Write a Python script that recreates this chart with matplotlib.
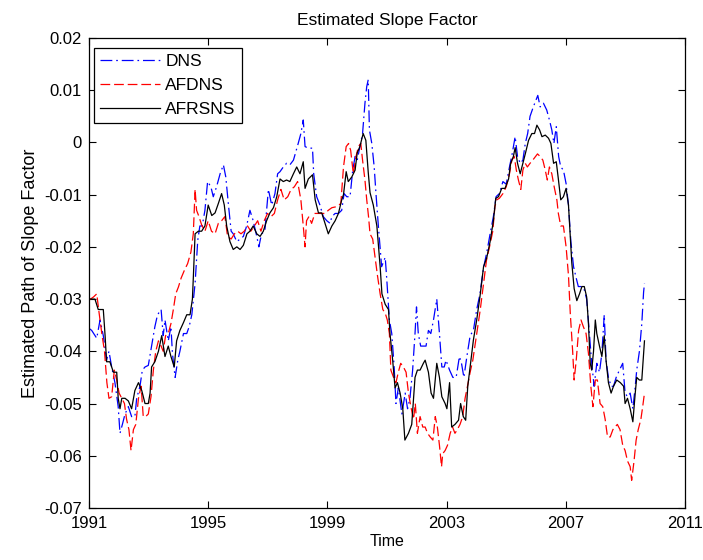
import matplotlib
matplotlib.use("Agg")
import matplotlib.pyplot as plt

plt.rcParams['font.family'] = ['Liberation Sans', 'DejaVu Sans']
plt.rcParams['lines.scale_dashes'] = False

# DNS slope factor path (decimal year, value)
dns_t = [1991.00, 1991.09, 1991.26, 1991.37, 1991.48, 1991.59, 1991.67, 1991.76, 1991.87, 1991.98,
         1992.04, 1992.12, 1992.21, 1992.32, 1992.43, 1992.54, 1992.60, 1992.71, 1992.79, 1992.88,
         1992.99, 1993.10, 1993.21, 1993.30, 1993.42, 1993.49, 1993.55, 1993.66, 1993.75, 1993.80,
         1993.89, 1993.98, 1994.05, 1994.17, 1994.28, 1994.36, 1994.45, 1994.56, 1994.65, 1994.72,
         1994.80, 1994.89, 1994.98, 1995.09, 1995.17, 1995.28, 1995.40, 1995.51, 1995.59, 1995.68,
         1995.77, 1995.84, 1995.96, 1996.07, 1996.18, 1996.29, 1996.40, 1996.51, 1996.63, 1996.70,
         1996.79, 1996.90, 1997.02, 1997.13, 1997.24, 1997.33, 1997.41, 1997.52, 1997.63, 1997.74,
         1997.86, 1997.94, 1998.02, 1998.11, 1998.19, 1998.25, 1998.36, 1998.50, 1998.54, 1998.64,
         1998.75, 1998.86, 1998.98, 1999.09, 1999.15, 1999.26, 1999.37, 1999.48, 1999.56, 1999.65,
         1999.76, 1999.85, 1999.93, 2000.00, 2000.09, 2000.18, 2000.26, 2000.32, 2000.37, 2000.41,
         2000.49, 2000.57, 2000.63, 2000.71, 2000.82, 2000.94, 2000.99, 2001.08, 2001.16, 2001.24,
         2001.30, 2001.38, 2001.50, 2001.61, 2001.69, 2001.77, 2001.86, 2001.94, 2001.99, 2002.05,
         2002.13, 2002.22, 2002.31, 2002.39, 2002.47, 2002.56, 2002.67, 2002.76, 2002.84, 2002.92,
         2002.98, 2003.10, 2003.21, 2003.32, 2003.43, 2003.50, 2003.58, 2003.68, 2003.79, 2003.90,
         2004.01, 2004.12, 2004.24, 2004.35, 2004.46, 2004.57, 2004.66, 2004.77, 2004.89, 2005.00,
         2005.11, 2005.20, 2005.30, 2005.38, 2005.47, 2005.56, 2005.64, 2005.72, 2005.80, 2005.91,
         2006.00, 2006.06, 2006.14, 2006.25, 2006.36, 2006.45, 2006.53, 2006.60, 2006.68, 2006.76,
         2006.83, 2006.92, 2007.01, 2007.09, 2007.17, 2007.26, 2007.35, 2007.42, 2007.54, 2007.61,
         2007.70, 2007.79, 2007.87, 2007.95, 2008.04, 2008.13, 2008.21, 2008.29, 2008.35, 2008.43,
         2008.52, 2008.60, 2008.69, 2008.80, 2008.91, 2008.99, 2009.07, 2009.16, 2009.25, 2009.33,
         2009.38, 2009.47, 2009.55, 2009.61, 2009.64]
dns = [-0.0356, -0.0360, -0.0375, -0.0340, -0.0370, -0.0417, -0.0400, -0.0430, -0.0460, -0.0506,
       -0.0557, -0.0540, -0.0520, -0.0506, -0.0525, -0.0525, -0.0490, -0.0467, -0.0436, -0.0430,
       -0.0427, -0.0390, -0.0353, -0.0330, -0.0320, -0.0370, -0.0340, -0.0380, -0.0353, -0.0404,
       -0.0450, -0.0417, -0.0400, -0.0366, -0.0366, -0.0353, -0.0330, -0.0270, -0.0187, -0.0160,
       -0.0160, -0.0130, -0.0075, -0.0085, -0.0104, -0.0085, -0.0060, -0.0043, -0.0066, -0.0120,
       -0.0170, -0.0175, -0.0190, -0.0185, -0.0180, -0.0160, -0.0130, -0.0150, -0.0180, -0.0200,
       -0.0175, -0.0170, -0.0090, -0.0120, -0.0098, -0.0060, -0.0056, -0.0047, -0.0040, -0.0043,
       -0.0034, -0.0018, -0.0002, 0.0017, 0.0043, -0.0008, -0.0011, -0.0011, -0.0060, -0.0104,
       -0.0120, -0.0142, -0.0150, -0.0155, -0.0142, -0.0136, -0.0136, -0.0130, -0.0098, -0.0104,
       -0.0104, -0.0053, -0.0027, -0.0034, -0.0008, 0.0017, 0.0075, 0.0107, 0.0120, 0.0024,
       -0.0002, -0.0047, -0.0098, -0.0160, -0.0238, -0.0220, -0.0260, -0.0340, -0.0366, -0.0430,
       -0.0500, -0.0470, -0.0520, -0.0480, -0.0510, -0.0490, -0.0436, -0.0366, -0.0315, -0.0366,
       -0.0390, -0.0390, -0.0390, -0.0360, -0.0366, -0.0340, -0.0300, -0.0366, -0.0430, -0.0430,
       -0.0417, -0.0436, -0.0450, -0.0450, -0.0410, -0.0423, -0.0450, -0.0410, -0.0370, -0.0360,
       -0.0320, -0.0290, -0.0240, -0.0210, -0.0175, -0.0142, -0.0104, -0.0098, -0.0075, -0.0080,
       -0.0047, -0.0022, 0.0011, -0.0027, -0.0040, -0.0034, -0.0002, 0.0017, 0.0050, 0.0068,
       0.0081, 0.0090, 0.0068, 0.0075, 0.0062, 0.0043, 0.0024, -0.0002, 0.0030, -0.0027,
       -0.0047, -0.0053, -0.0079, -0.0120, -0.0190, -0.0238, -0.0260, -0.0276, -0.0276, -0.0280,
       -0.0300, -0.0366, -0.0423, -0.0467, -0.0423, -0.0440, -0.0404, -0.0330, -0.0417, -0.0450,
       -0.0467, -0.0467, -0.0450, -0.0436, -0.0423, -0.0480, -0.0487, -0.0480, -0.0510, -0.0467,
       -0.0436, -0.0400, -0.0347, -0.0287, -0.0270]

# AFDNS slope factor path
afdns_t = [1991.00, 1991.15, 1991.26, 1991.34, 1991.43, 1991.52, 1991.60, 1991.67, 1991.76, 1991.85,
           1991.93, 1992.01, 1992.10, 1992.19, 1992.26, 1992.34, 1992.41, 1992.49, 1992.57, 1992.66,
           1992.75, 1992.82, 1992.90, 1992.99, 1993.08, 1993.16, 1993.24, 1993.33, 1993.42, 1993.49,
           1993.57, 1993.66, 1993.75, 1993.83, 1993.91, 1994.00, 1994.09, 1994.20, 1994.31, 1994.42,
           1994.50, 1994.56, 1994.61, 1994.69, 1994.78, 1994.89, 1995.00, 1995.11, 1995.23, 1995.34,
           1995.45, 1995.56, 1995.65, 1995.77, 1995.88, 1995.99, 1996.10, 1996.21, 1996.32, 1996.43,
           1996.55, 1996.66, 1996.77, 1996.88, 1996.99, 1997.11, 1997.22, 1997.33, 1997.44, 1997.55,
           1997.67, 1997.78, 1997.89, 1998.00, 1998.11, 1998.19, 1998.25, 1998.30, 1998.38, 1998.47,
           1998.58, 1998.69, 1998.81, 1998.92, 1999.03, 1999.15, 1999.31, 1999.45, 1999.54, 1999.63,
           1999.71, 1999.78, 1999.87, 1999.96, 2000.04, 2000.12, 2000.18, 2000.26, 2000.32, 2000.38,
           2000.43, 2000.52, 2000.60, 2000.68, 2000.77, 2000.86, 2000.94, 2001.01, 2001.08, 2001.13,
           2001.22, 2001.30, 2001.38, 2001.46, 2001.55, 2001.64, 2001.72, 2001.80, 2001.89, 2001.95,
           2002.02, 2002.11, 2002.20, 2002.28, 2002.36, 2002.45, 2002.54, 2002.62, 2002.69, 2002.76,
           2002.83, 2002.87, 2002.95, 2003.03, 2003.12, 2003.20, 2003.28, 2003.36, 2003.45, 2003.54,
           2003.62, 2003.70, 2003.79, 2003.88, 2003.95, 2004.03, 2004.13, 2004.24, 2004.34, 2004.44,
           2004.55, 2004.62, 2004.68, 2004.77, 2004.89, 2005.00, 2005.11, 2005.19, 2005.27, 2005.34,
           2005.41, 2005.49, 2005.56, 2005.64, 2005.71, 2005.80, 2005.89, 2005.97, 2006.05, 2006.14,
           2006.23, 2006.31, 2006.38, 2006.45, 2006.53, 2006.61, 2006.70, 2006.75, 2006.83, 2006.92,
           2007.01, 2007.09, 2007.15, 2007.23, 2007.28, 2007.35, 2007.43, 2007.51, 2007.59, 2007.68,
           2007.76, 2007.84, 2007.91, 2007.99, 2008.06, 2008.15, 2008.24, 2008.32, 2008.40, 2008.49,
           2008.58, 2008.65, 2008.73, 2008.82, 2008.91, 2008.99, 2009.07, 2009.16, 2009.21, 2009.29,
           2009.36, 2009.43, 2009.52, 2009.58, 2009.64]
afdns = [-0.0302, -0.0296, -0.0290, -0.0327, -0.0366, -0.0400, -0.0460, -0.0490, -0.0487, -0.0436,
         -0.0455, -0.0480, -0.0490, -0.0500, -0.0530, -0.0550, -0.0590, -0.0550, -0.0540, -0.0490,
         -0.0467, -0.0525, -0.0525, -0.0520, -0.0487, -0.0436, -0.0400, -0.0380, -0.0390, -0.0400,
         -0.0370, -0.0366, -0.0347, -0.0320, -0.0290, -0.0277, -0.0260, -0.0245, -0.0232, -0.0210,
         -0.0175, -0.0090, -0.0130, -0.0142, -0.0158, -0.0170, -0.0150, -0.0170, -0.0175, -0.0155,
         -0.0150, -0.0142, -0.0180, -0.0185, -0.0175, -0.0170, -0.0175, -0.0170, -0.0160, -0.0170,
         -0.0160, -0.0150, -0.0170, -0.0150, -0.0136, -0.0142, -0.0136, -0.0110, -0.0090, -0.0110,
         -0.0104, -0.0090, -0.0085, -0.0075, -0.0110, -0.0160, -0.0200, -0.0150, -0.0142, -0.0155,
         -0.0136, -0.0136, -0.0136, -0.0136, -0.0130, -0.0125, -0.0123, -0.0117, -0.0047, -0.0008,
         -0.0002, -0.0015, -0.0060, -0.0027, -0.0008, -0.0002, -0.0034, -0.0072, -0.0110, -0.0142,
         -0.0175, -0.0185, -0.0220, -0.0255, -0.0290, -0.0320, -0.0327, -0.0340, -0.0366, -0.0436,
         -0.0450, -0.0460, -0.0440, -0.0423, -0.0430, -0.0440, -0.0480, -0.0506, -0.0530, -0.0500,
         -0.0557, -0.0525, -0.0545, -0.0545, -0.0557, -0.0564, -0.0570, -0.0525, -0.0545, -0.0580,
         -0.0621, -0.0596, -0.0590, -0.0580, -0.0557, -0.0545, -0.0557, -0.0550, -0.0540, -0.0525,
         -0.0490, -0.0467, -0.0440, -0.0417, -0.0390, -0.0360, -0.0320, -0.0270, -0.0225, -0.0200,
         -0.0170, -0.0123, -0.0110, -0.0107, -0.0098, -0.0085, -0.0060, -0.0034, -0.0027, -0.0053,
         -0.0072, -0.0090, -0.0053, -0.0040, -0.0047, -0.0040, -0.0034, -0.0028, -0.0022, -0.0027,
         -0.0034, -0.0053, -0.0072, -0.0047, -0.0060, -0.0085, -0.0110, -0.0136, -0.0160, -0.0160,
         -0.0200, -0.0255, -0.0327, -0.0400, -0.0455, -0.0417, -0.0360, -0.0340, -0.0353, -0.0366,
         -0.0404, -0.0467, -0.0506, -0.0455, -0.0455, -0.0500, -0.0506, -0.0530, -0.0564, -0.0564,
         -0.0550, -0.0545, -0.0540, -0.0550, -0.0580, -0.0590, -0.0610, -0.0621, -0.0647, -0.0610,
         -0.0570, -0.0550, -0.0530, -0.0506, -0.0480]

# AFRSNS slope factor path
afrsns_t = [1991.00, 1991.20, 1991.31, 1991.48, 1991.54, 1991.59, 1991.70, 1991.82, 1991.93, 1991.98,
            1992.04, 1992.10, 1992.21, 1992.32, 1992.43, 1992.54, 1992.66, 1992.77, 1992.88, 1992.99,
            1993.05, 1993.10, 1993.21, 1993.33, 1993.44, 1993.55, 1993.66, 1993.75, 1993.86, 1993.94,
            1994.05, 1994.17, 1994.28, 1994.39, 1994.47, 1994.50, 1994.56, 1994.67, 1994.78, 1994.89,
            1995.00, 1995.12, 1995.23, 1995.34, 1995.45, 1995.54, 1995.62, 1995.73, 1995.84, 1995.96,
            1996.07, 1996.18, 1996.30, 1996.40, 1996.51, 1996.63, 1996.74, 1996.85, 1996.96, 1997.07,
            1997.19, 1997.30, 1997.41, 1997.52, 1997.63, 1997.74, 1997.86, 1997.97, 1998.08, 1998.19,
            1998.25, 1998.36, 1998.50, 1998.59, 1998.70, 1998.81, 1998.92, 1999.03, 1999.15, 1999.26,
            1999.37, 1999.48, 1999.54, 1999.63, 1999.70, 1999.82, 1999.93, 2000.00, 2000.09, 2000.20,
            2000.29, 2000.37, 2000.43, 2000.54, 2000.66, 2000.77, 2000.83, 2000.94, 2001.05, 2001.10,
            2001.19, 2001.27, 2001.35, 2001.44, 2001.53, 2001.60, 2001.72, 2001.83, 2001.94, 2002.02,
            2002.11, 2002.22, 2002.28, 2002.39, 2002.48, 2002.56, 2002.67, 2002.76, 2002.84, 2002.95,
            2003.01, 2003.10, 2003.17, 2003.28, 2003.40, 2003.47, 2003.56, 2003.64, 2003.71, 2003.79,
            2003.90, 2004.01, 2004.12, 2004.24, 2004.35, 2004.46, 2004.57, 2004.65, 2004.74, 2004.85,
            2004.96, 2005.08, 2005.15, 2005.24, 2005.30, 2005.38, 2005.47, 2005.56, 2005.64, 2005.75,
            2005.86, 2005.95, 2006.03, 2006.12, 2006.20, 2006.31, 2006.42, 2006.50, 2006.59, 2006.68,
            2006.75, 2006.83, 2006.92, 2007.01, 2007.09, 2007.15, 2007.20, 2007.28, 2007.37, 2007.46,
            2007.54, 2007.62, 2007.70, 2007.76, 2007.82, 2007.87, 2007.93, 2007.99, 2008.04, 2008.13,
            2008.21, 2008.29, 2008.35, 2008.43, 2008.52, 2008.60, 2008.71, 2008.83, 2008.94, 2008.99,
            2009.07, 2009.16, 2009.25, 2009.33, 2009.38, 2009.47, 2009.55, 2009.61, 2009.64]
afrsns = [-0.0300, -0.0300, -0.0320, -0.0320, -0.0370, -0.0420, -0.0420, -0.0440, -0.0440, -0.0490,
          -0.0510, -0.0490, -0.0490, -0.0495, -0.0510, -0.0475, -0.0460, -0.0475, -0.0500, -0.0500,
          -0.0480, -0.0430, -0.0420, -0.0400, -0.0370, -0.0410, -0.0390, -0.0410, -0.0430, -0.0380,
          -0.0360, -0.0345, -0.0330, -0.0330, -0.0300, -0.0260, -0.0175, -0.0170, -0.0170, -0.0160,
          -0.0120, -0.0140, -0.0135, -0.0117, -0.0098, -0.0120, -0.0160, -0.0190, -0.0205, -0.0200,
          -0.0205, -0.0197, -0.0175, -0.0170, -0.0160, -0.0175, -0.0180, -0.0170, -0.0150, -0.0135,
          -0.0125, -0.0104, -0.0070, -0.0075, -0.0072, -0.0075, -0.0060, -0.0047, -0.0060, -0.0037,
          -0.0088, -0.0070, -0.0062, -0.0110, -0.0135, -0.0135, -0.0155, -0.0175, -0.0160, -0.0150,
          -0.0136, -0.0110, -0.0100, -0.0056, -0.0075, -0.0066, -0.0053, -0.0020, -0.0008, 0.0017,
          0.0004, -0.0057, -0.0096, -0.0120, -0.0160, -0.0238, -0.0290, -0.0310, -0.0320, -0.0366,
          -0.0417, -0.0470, -0.0460, -0.0480, -0.0510, -0.0570, -0.0557, -0.0540, -0.0450, -0.0436,
          -0.0436, -0.0423, -0.0417, -0.0440, -0.0480, -0.0490, -0.0423, -0.0450, -0.0487, -0.0500,
          -0.0510, -0.0460, -0.0545, -0.0540, -0.0532, -0.0500, -0.0525, -0.0532, -0.0467, -0.0430,
          -0.0378, -0.0340, -0.0295, -0.0238, -0.0220, -0.0190, -0.0150, -0.0107, -0.0104, -0.0088,
          -0.0088, -0.0070, -0.0040, -0.0027, -0.0010, -0.0040, -0.0060, -0.0040, -0.0022, 0.0004,
          0.0017, 0.0017, 0.0033, 0.0024, 0.0011, 0.0014, 0.0008, -0.0002, -0.0040, -0.0037,
          -0.0070, -0.0110, -0.0104, -0.0088, -0.0120, -0.0180, -0.0230, -0.0280, -0.0303, -0.0290,
          -0.0276, -0.0276, -0.0296, -0.0347, -0.0423, -0.0436, -0.0400, -0.0340, -0.0366, -0.0390,
          -0.0410, -0.0370, -0.0417, -0.0460, -0.0480, -0.0467, -0.0455, -0.0460, -0.0467, -0.0500,
          -0.0490, -0.0510, -0.0535, -0.0480, -0.0450, -0.0455, -0.0455, -0.0405, -0.0380]

x_ticks = [1991, 1995, 1999, 2003, 2007, 2011]
y_ticks = [0.02, 0.01, 0, -0.01, -0.02, -0.03, -0.04, -0.05, -0.06, -0.07]
y_labels = ['0.02', '0.01', '0', '-0.01', '-0.02', '-0.03', '-0.04', '-0.05', '-0.06', '-0.07']

fs = 12.5

fig = plt.figure(figsize=(7.03, 5.6), dpi=100)
ax = fig.add_axes([0.1266, 0.0929, 0.8478, 0.8393])

ax.plot(dns_t, dns, color='#0000ff', linestyle=(0, (8.5, 2.8, 1.2, 2.8)), linewidth=0.9, label='DNS')
ax.plot(afdns_t, afdns, color='#ff0000', linestyle=(0, (7.0, 2.8)), linewidth=0.9, label='AFDNS')
ax.plot(afrsns_t, afrsns, color='black', linestyle='-', linewidth=0.9, label='AFRSNS')

ax.set_xlim(1991, 2011)
ax.set_ylim(-0.07, 0.02)
ax.set_xticks(x_ticks)
ax.set_xticklabels([str(v) for v in x_ticks])
ax.set_yticks(y_ticks)
ax.set_yticklabels(y_labels)
ax.tick_params(direction='in', length=5, width=0.8, top=True, right=True,
               labelsize=fs - 0.5, colors='black')
ax.tick_params(axis='y', pad=5)
ax.tick_params(axis='x', pad=6)
for s in ax.spines.values():
    s.set_linewidth(0.9)

ax.set_title('Estimated Slope Factor', fontsize=fs, pad=9)
ax.set_xlabel('Time', fontsize=fs - 1, labelpad=2)
ax.set_ylabel('Estimated Path of Slope Factor', fontsize=fs + 0.5, labelpad=4)

leg = ax.legend(loc='upper left', bbox_to_anchor=(0.0084, 0.9787), borderaxespad=0,
                fontsize=fs, fancybox=False, edgecolor='black', framealpha=1,
                handlelength=3.45, labelspacing=0.5, borderpad=0.35, handletextpad=0.3)
leg.get_frame().set_linewidth(0.9)

fig.savefig('out.png', dpi=100)
